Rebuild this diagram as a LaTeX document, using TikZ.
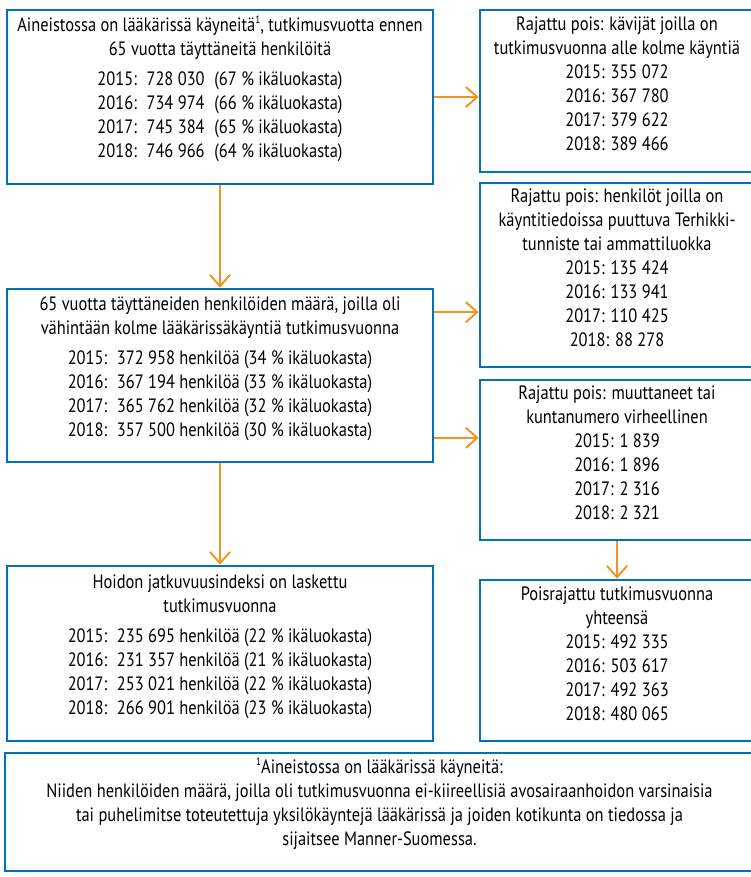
\documentclass[tikz,border=0pt]{standalone}
\usepackage{fontspec}
\setmainfont{PT Sans}[FakeStretch=0.85]
\usepackage{tikz}
\usetikzlibrary{arrows.meta, fit, calc}

\definecolor{boxblue}{RGB}{0,114,188}
\definecolor{arroworange}{RGB}{247,148,29}
\newcommand{\fnmark}{\raisebox{0.85ex}{\fontsize{8}{8}\selectfont 1}}

\tikzset{
  flowbox/.style={draw=boxblue, line width=1.9pt, inner sep=0pt, align=center,
    font=\fontsize{14.5}{18}\selectfont},
  flowarrow/.style={draw=arroworange, line width=1.5pt,
    -{Straight Barb[length=8.5pt,width=15pt]}}
}

\begin{document}
\begin{tikzpicture}[x=0.75pt,y=0.75pt,yscale=-1,xscale=1]
\useasboundingbox (0,0) rectangle (750,877);

% Left column
\node [flowbox, fit={(7,10) (433,184)}] (start) {Aineistossa on lääkärissä käyneitä\fnmark, tutkimusvuotta ennen\\
  65 vuotta täyttäneitä henkilöitä\\[4.5pt]
  2015:\enspace 728 030\enspace (67 \% ikäluokasta)\\
  2016:\enspace 734 974\enspace (66 \% ikäluokasta)\\
  2017:\enspace 745 384\enspace (65 \% ikäluokasta)\\
  2018:\enspace 746 966\enspace (64 \% ikäluokasta)};
\node [flowbox, fit={(7,289) (433,462)}] (three) {65 vuotta täyttäneiden henkilöiden määrä, joilla oli\\
  vähintään kolme lääkärissäkäyntiä tutkimusvuonna\\[4.5pt]
  2015:\enspace 372 958 henkilöä (34 \% ikäluokasta)\\
  2016:\enspace 367 194 henkilöä (33 \% ikäluokasta)\\
  2017:\enspace 365 762 henkilöä (32 \% ikäluokasta)\\
  2018:\enspace 357 500 henkilöä (30 \% ikäluokasta)};
\node [flowbox, fit={(7,566) (433,741)}] (index) {Hoidon jatkuvuusindeksi on laskettu\\
  tutkimusvuonna\\[4.5pt]
  2015:\enspace 235 695 henkilöä (22 \% ikäluokasta)\\
  2016:\enspace 231 357 henkilöä (21 \% ikäluokasta)\\
  2017:\enspace 253 021 henkilöä (22 \% ikäluokasta)\\
  2018:\enspace 266 901 henkilöä (23 \% ikäluokasta)};

% Right column
\node [flowbox, fit={(480,10) (754,172)}] (few) {Rajattu pois: kävijät joilla on\\
  tutkimusvuonna alle kolme käyntiä\\
  2015: 355 072\\ 2016: 367 780\\ 2017: 379 622\\ 2018: 389 466};
\node [flowbox, fit={(480,183) (754,367)}] (missing) {Rajattu pois: henkilöt joilla on\\
  käyntitiedoissa puuttuva Terhikki-\\
  tunniste tai ammattiluokka\\
  2015: 135 424\\ 2016: 133 941\\ 2017: 110 425\\ 2018: 88 278};
\node [flowbox, fit={(480,380) (754,540)}] (moved) {Rajattu pois: muuttaneet tai\\
  kuntanumero virheellinen\\
  2015: 1 839\\ 2016: 1 896\\ 2017: 2 316\\ 2018: 2 321};
\node [flowbox, fit={(480,580) (754,741)}] (total) {Poisrajattu tutkimusvuonna\\
  yhteensä\\
  2015: 492 335\\ 2016: 503 617\\ 2017: 492 363\\ 2018: 480 065};

% Footnote
\node [flowbox, fit={(5,753) (754,871)}] (note) {\fnmark Aineistossa on lääkärissä käyneitä:\\
  Niiden henkilöiden määrä, joilla oli tutkimusvuonna ei-kiireellisiä avosairaanhoidon varsinaisia\\
  tai puhelimitse toteutettuja yksilökäyntejä lääkärissä ja joiden kotikunta on tiedossa ja\\
  sijaitsee Manner-Suomessa.};

% Arrow ends on the middle box
\coordinate (out1) at ($(three.north east)!0.139!(three.south east)$);
\coordinate (out2) at ($(three.north east)!0.855!(three.south east)$);

%Straight Lines
\draw [flowarrow] (start.east) -- (start.east -| few.west);
\draw [flowarrow] (start) -- (three);
\draw [flowarrow] (out1) -- (out1 -| missing.west);
\draw [flowarrow] (out2) -- (out2 -| moved.west);
\draw [flowarrow] (three) -- (index);
\draw [flowarrow] (moved) -- (total);

\end{tikzpicture}
\end{document}
